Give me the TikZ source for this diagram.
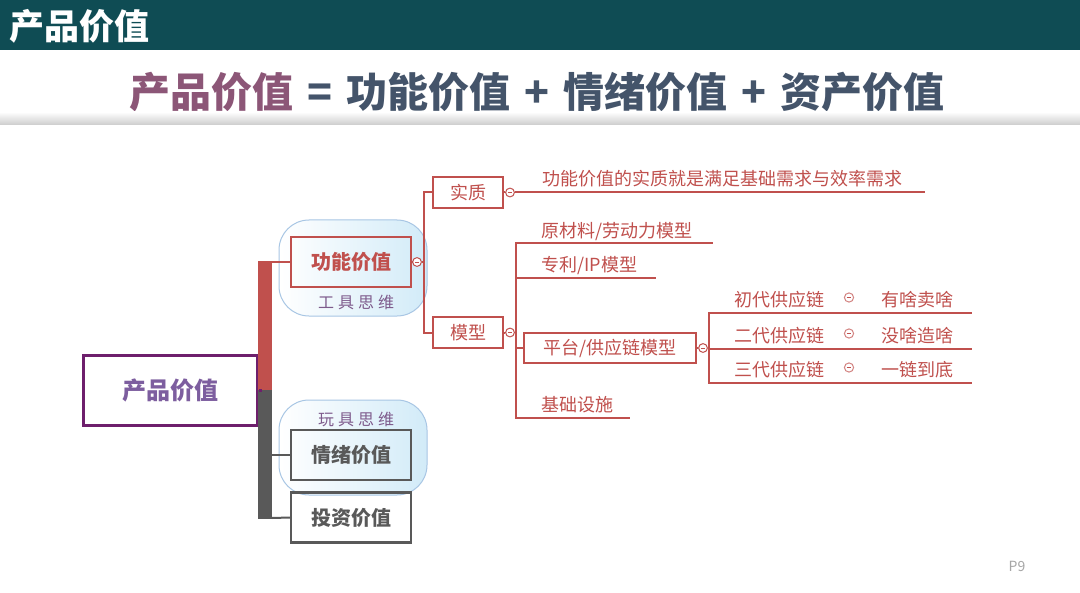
\documentclass[tikz,border=0pt]{standalone}
\usepackage{fontspec}
\setmainfont{Noto Sans CJK SC}
\usetikzlibrary{positioning}
\definecolor{fejlec}{HTML}{0F4C54}
\definecolor{lila}{HTML}{8C5677}
\definecolor{pala}{HTML}{44546A}
\definecolor{piros}{HTML}{C0504D}
\definecolor{sotet}{HTML}{595959}
\definecolor{gyk}{HTML}{6E1F6C}
\definecolor{gyt}{HTML}{7D5E9F}
\definecolor{bubf}{HTML}{D2EBF8}
\definecolor{bubk}{HTML}{A8C6E4}
\definecolor{cimk}{HTML}{7E5B8C}
\newcommand\op[1]{\hspace{0.34em}#1\hspace{0.34em}}
\tikzset{
  rootbox/.style={draw=gyk,line width=1.5pt,minimum width=87pt,minimum height=35pt,inner sep=0pt,text=gyt,font=\bfseries\fontsize{12}{14}\selectfont},
  mainbox/.style={draw,line width=1.2pt,minimum width=60pt,minimum height=25pt,inner sep=0pt,font=\bfseries\fontsize{10}{12}\selectfont},
  subbox/.style={draw=piros,line width=1pt,minimum width=35pt,minimum height=15.5pt,inner sep=0pt,text=piros,font=\fontsize{9}{11}\selectfont},
  leaf/.style={anchor=base west,inner sep=0pt,text=piros,font=\fontsize{9}{11}\selectfont},
  knob/.style={circle,draw=piros,fill=white,line width=0.5pt,minimum size=4.4pt,inner sep=0pt,
    path picture={\draw[piros,line width=0.4pt] ([xshift=1.1pt]path picture bounding box.west) -- ([xshift=-1.1pt]path picture bounding box.east);}},
  mini/.style={knob,draw=piros!70,minimum size=4.6pt},
  bubble/.style={draw=bubk,line width=0.5pt,rounded corners=15pt,left color=white,right color=bubf,minimum width=74pt,inner sep=0pt},
  tag/.style={text=cimk,font=\fontsize{8}{10}\selectfont\addfontfeature{LetterSpace=25}},
  branch/.style={draw=piros,line width=1pt},
}

\begin{document}
\begin{tikzpicture}[x=0.5pt,y=-0.5pt]
  \useasboundingbox (0,0) rectangle (1080,593);
  \fill[white] (0,0) rectangle (1080,593);
  % fejlec
  \fill[fejlec] (0,0) rectangle (1080,50);
  \node[anchor=west,inner sep=0pt,text=white,font=\bfseries\fontsize{17.5}{20}\selectfont] (hd) at (9,26) {产品价值};
  \node[text=pala,font=\bfseries\fontsize{20.5}{24}\selectfont] (cim) at (537,92)
    {\textcolor{lila}{产品价值}\op{=}功能价值\op{+}情绪价值\op{+}资产价值};
  \shade[top color=white,bottom color=gray!40] (0,112) rectangle (1080,125);
  \node[text=gray!70,font=\fontsize{7}{8}\selectfont] (pg) at (1017,566) {P9};

  % gyoker es torzs
  \node[rootbox] (root) at (170,390) {产品价值};
  \fill[piros] (258,261) rectangle (272,390);
  \fill[sotet] (258,390) rectangle (272,519);
  \coordinate (tm) at (262,390);
  \coordinate (t1) at (272,262);
  \coordinate (t2) at (272,455);
  \coordinate (t3) at (272,518);
  \draw[gyk,line width=1.5pt] (root.east) -- (tm);

  % buborekok
  \node[bubble,minimum height=48pt] (b1) at (353,268) {};
  \node[bubble,minimum height=47.5pt] (b2) at (353,447.5) {};
  \node[mainbox,draw=piros,text=piros] (fv) at (351,262) {功能价值};
  \node[mainbox,draw=sotet,text=sotet] (qx) at (351,455) {情绪价值};
  \node[mainbox,draw=sotet,text=sotet] (tz) at (351,517.5) {投资价值};
  \node[tag] (gj) at (356,302) {工具思维};
  \node[tag] (wj) at (356,419) {玩具思维};
  \draw[piros,line width=1pt] (t1) -- (fv.west);
  \draw[sotet,line width=1pt] (t2) -- (qx.west);
  \draw[sotet,line width=1pt] (t3) -- (tz.west);

  % funkcio ag
  \node[subbox] (sz) at (468,192.5) {实质};
  \node[subbox] (mx) at (468,332.5) {模型};
  \node[knob] (k1) at (417,262) {};
  \node[knob] (k2) at (510,192.5) {};
  \node[knob] (k3) at (510,332.5) {};
  \coordinate (j1) at (424,262);
  \draw[branch] (fv.east) -- (k1) (k1) -- (j1) (j1) |- (sz.west) (j1) |- (mx.west);
  \draw[branch] (sz.east) -- (k2);
  \node[leaf] (sz1) at (542,186) {功能价值的实质就是满足基础需求与效率需求};
  \coordinate (sz1e) at (925,192.5);
  \draw[branch] (k2) -- (sz1e);

  % modellek
  \draw[branch] (mx.east) -- (k3);
  \coordinate (j2) at (516,332.5);
  \draw[branch] (k3) -- (j2);
  \node[leaf] (m1) at (541,237) {原材料/劳动力模型};
  \coordinate (m1e) at (713,243);
  \node[leaf] (m2) at (541,271) {专利/IP模型};
  \coordinate (m2e) at (656,278);
  \node[subbox,minimum width=86pt,minimum height=15pt] (m3) at (610,348) {平台/供应链模型};
  \node[leaf] (m4) at (541,411) {基础设施};
  \coordinate (m4e) at (630,418);
  \draw[branch] (j2) |- (m1e) (j2) |- (m2e) (j2) |- (m3.west) (j2) |- (m4e);

  % ellatasi lanc
  \node[knob] (k4) at (703,348) {};
  \coordinate (j3) at (709,348);
  \draw[branch] (m3.east) -- (k4) (k4) -- (j3);
  \foreach \y/\a/\b [count=\i] in {313/初代供应链/有啥卖啥,349/二代供应链/没啥造啥,383/三代供应链/一链到底}{
    \node[leaf] (g\i) at (734,\y-7) {\a};
    \node[mini] (gk\i) at (849,\y-15.5) {};
    \node[leaf] (gv\i) at (881,\y-7) {\b};
    \coordinate (ge\i) at (972,\y);
    \draw[branch] (j3) |- (ge\i);
  }
\end{tikzpicture}
\end{document}
